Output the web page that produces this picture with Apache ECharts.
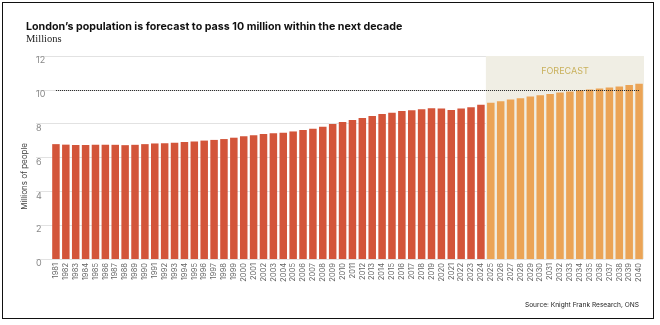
<!DOCTYPE html>
<html>
<head>
<meta charset="utf-8">
<script src="https://cdn.jsdelivr.net/npm/echarts@6/dist/echarts.min.js"></script>
<style>
  html, body { margin: 0; padding: 0; background: #fff; }
  #frame { position: absolute; left: 2px; top: 2px; width: 652px; height: 317px; border: 1.5px solid #111; box-sizing: border-box; }
  #chart { position: absolute; left: 0; top: 0; width: 660px; height: 325px; }
</style>
</head>
<body>
<div id="chart"></div>
<div id="frame"></div>
<script>
// London population, millions: recorded years then forecast years
const years = [];
for (let y = 1981; y <= 2040; y++) years.push(String(y));

const recorded = [
  6.79, 6.76, 6.74, 6.74, 6.75, 6.76, 6.75, 6.73, 6.75, 6.79,
  6.83, 6.84, 6.87, 6.91, 6.95, 7.00, 7.04, 7.09, 7.17, 7.25,
  7.31, 7.39, 7.43, 7.47, 7.54, 7.62, 7.70, 7.82, 7.98, 8.10,
  8.22, 8.34, 8.46, 8.57, 8.65, 8.75, 8.79, 8.85, 8.91, 8.89,
  8.81, 8.89, 8.97, 9.12
];
const forecast = [
  9.23, 9.33, 9.43, 9.50, 9.60, 9.68, 9.76, 9.84, 9.90, 9.98,
  10.02, 10.08, 10.14, 10.20, 10.28, 10.36
];
const yTicks = [0, 2, 4, 6, 8, 10, 12];
const threshold = 10;

const RED = '#d3553a';
const ORANGE = '#eba456';

const barData = recorded.map(v => ({ value: v, itemStyle: { color: RED } }))
  .concat(forecast.map(v => ({ value: v, itemStyle: { color: ORANGE } })));

const chart = echarts.init(document.getElementById('chart'), null, { renderer: 'canvas' });
chart.setOption({
  animation: false,
  title: [
    {
      text: "London\u2019s population is forecast to pass 10 million within the next decade",
      left: 21, top: 16,
      textStyle: { fontFamily: 'Inter', fontWeight: 'bold', fontSize: 10.7, color: '#111' }
    },
    {
      text: 'Millions',
      left: 21, top: 29,
      textStyle: { fontFamily: 'Liberation Serif', fontWeight: 'normal', fontSize: 10.5, color: '#222' }
    },
    {
      text: 'Source: Knight Frank Research, ONS',
      right: 16, top: 297,
      textStyle: { fontFamily: 'Inter', fontWeight: 'normal', fontSize: 6.6, color: '#222' }
    }
  ],
  graphic: [{
    type: 'text',
    left: 21, top: 143,
    rotation: Math.PI / 2,
    style: { text: 'Millions of people', font: '8px Inter', fill: '#444' }
  }],
  grid: [
    { left: 36, right: 17, top: 56, bottom: 66 },
    { left: 51, right: 16, top: 56, bottom: 66 }
  ],
  xAxis: [
    { type: 'value', gridIndex: 0, show: false, min: 0, max: 1 },
    {
      type: 'category', gridIndex: 1, data: years,
      axisLine: { show: false }, axisTick: { show: false },
      axisLabel: { rotate: 90, interval: 0, fontSize: 7.5, color: '#666', margin: 4, fontFamily: 'Inter' }
    }
  ],
  yAxis: [
    {
      type: 'value', gridIndex: 0, min: yTicks[0], max: yTicks[yTicks.length - 1], interval: 2,
      axisLine: { show: false }, axisTick: { show: false },
      splitLine: { lineStyle: { color: '#e2e2e2', width: 1 } },
      axisLabel: { inside: true, margin: 0, verticalAlign: 'top', fontSize: 9, color: '#888', fontFamily: 'Inter' }
    },
    {
      type: 'value', gridIndex: 1, min: yTicks[0], max: yTicks[yTicks.length - 1], interval: 2,
      show: false, splitLine: { show: false }
    }
  ],
  series: [{
    type: 'bar',
    xAxisIndex: 1, yAxisIndex: 1,
    data: barData,
    barCategoryGap: '24%',
    markArea: {
      silent: true,
      itemStyle: { color: '#f0eee4' },
      label: {
        show: true, position: 'insideTop', distance: 11,
        color: '#c9b15c', fontSize: 9, fontFamily: 'Inter'
      },
      data: [[
        { name: 'FORECAST', xAxis: years[recorded.length], yAxis: 12 },
        { xAxis: years[years.length - 1], yAxis: 0 }
      ]]
    },
    markLine: {
      silent: true,
      symbol: 'none',
      label: { show: false },
      lineStyle: { type: 'dotted', color: '#222', width: 1 },
      data: [[
        { coord: [years[0], threshold] },
        { coord: [years[years.length - 1], threshold] }
      ]]
    }
  }]
});
</script>
</body>
</html>
